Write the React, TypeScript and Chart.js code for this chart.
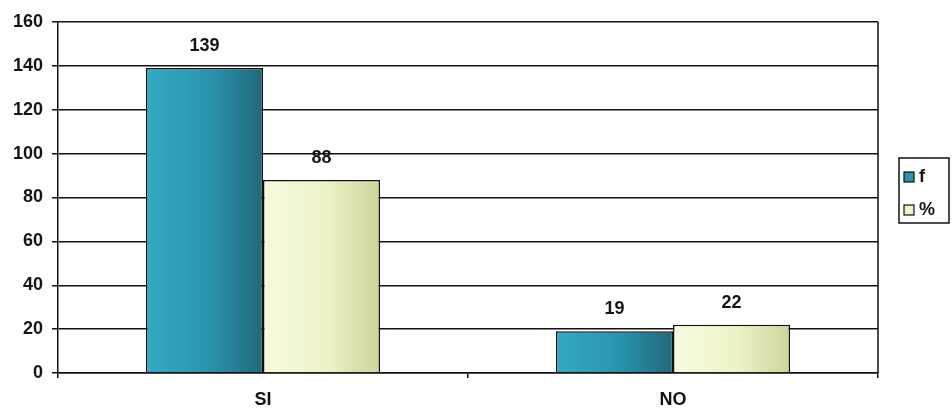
import React, { useEffect, useRef } from "react";
import { Chart, registerables } from "chart.js";

Chart.register(...registerables);

const categories = ["SI", "NO"];
const seriesNames = ["f", "%"];
const fValues = [139, 19];
const pctValues = [88, 22];
const yTicks = [0, 20, 40, 60, 80, 100, 120, 140, 160];

const FONT = "'Liberation Sans', Arial, sans-serif";
const CAT_PCT = 0.571;

const gradStops = [
  ["#34aac4", "#2a93ad", "#22687a"],
  ["#f8fadf", "#eef2c8", "#cfd39a"],
];

function barGradient(ctx: any) {
  const chart = ctx.chart;
  const xs = chart.scales && chart.scales.x;
  const stops = gradStops[ctx.datasetIndex] || gradStops[0];
  if (!xs || ctx.dataIndex === undefined) return stops[1];
  const center = xs.getPixelForValue(ctx.dataIndex);
  const catW = xs.width / categories.length;
  const bw = (catW * CAT_PCT) / 2;
  const x0 = ctx.datasetIndex === 0 ? center - bw : center;
  if (!isFinite(x0) || !isFinite(bw) || bw <= 0) return stops[1];
  const g = chart.ctx.createLinearGradient(x0, 0, x0 + bw, 0);
  g.addColorStop(0, stops[0]);
  g.addColorStop(0.55, stops[1]);
  g.addColorStop(1, stops[2]);
  return g;
}

const labelsPlugin = {
  id: "valueLabels",
  afterDatasetsDraw(chart: any) {
    const ctx = chart.ctx;
    ctx.save();
    ctx.font = `bold 18px ${FONT}`;
    ctx.fillStyle = "#151515";
    ctx.textAlign = "center";
    ctx.textBaseline = "middle";
    chart.data.datasets.forEach((ds: any, di: number) => {
      const meta = chart.getDatasetMeta(di);
      meta.data.forEach((el: any, i: number) => {
        ctx.fillText(String(ds.data[i]), el.x, el.y - 22);
      });
    });
    ctx.restore();
  },
};

const framePlugin = {
  id: "frameAndLegend",
  afterDraw(chart: any) {
    const ctx = chart.ctx;
    const a = chart.chartArea;
    ctx.save();
    ctx.strokeStyle = "#111";
    ctx.lineWidth = 1.5;
    ctx.beginPath();
    ctx.moveTo(a.right, a.top);
    ctx.lineTo(a.right, a.bottom);
    ctx.stroke();

    const lx = 899, ly = 158, lw = 50, lh = 65;
    ctx.lineWidth = 1.5;
    ctx.strokeRect(lx, ly, lw, lh);
    const colors = ["#2a93ad", "#eef2c8"];
    ctx.font = `bold 18px ${FONT}`;
    ctx.textBaseline = "middle";
    ctx.textAlign = "left";
    seriesNames.forEach((name, i) => {
      const cy = ly + 19 + i * 33;
      ctx.fillStyle = colors[i];
      ctx.fillRect(lx + 5, cy - 5, 10, 10);
      ctx.lineWidth = 1.2;
      ctx.strokeStyle = "#111";
      ctx.strokeRect(lx + 5, cy - 5, 10, 10);
      ctx.fillStyle = "#151515";
      ctx.fillText(name, lx + 20, cy);
    });
    ctx.restore();
  },
};

export default function App() {
  const ref = useRef<HTMLCanvasElement | null>(null);
  useEffect(() => {
    if (!ref.current) return;
    const chart = new Chart(ref.current, {
      type: "bar",
      data: {
        labels: categories,
        datasets: [
          {
            label: seriesNames[0],
            data: fValues,
            backgroundColor: barGradient,
            borderColor: "#111",
            borderWidth: 1.5,
            categoryPercentage: CAT_PCT,
            barPercentage: 1,
          },
          {
            label: seriesNames[1],
            data: pctValues,
            backgroundColor: barGradient,
            borderColor: "#111",
            borderWidth: 1.5,
            categoryPercentage: CAT_PCT,
            barPercentage: 1,
          },
        ],
      },
      options: {
        responsive: false,
        animation: false,
        maintainAspectRatio: false,
        layout: { padding: { top: 22, right: 74, left: 0, bottom: 0 } },
        plugins: {
          legend: { display: false },
          tooltip: { enabled: false },
        },
        scales: {
          x: {
            offset: true,
            afterFit: (s: any) => {
              s.height = 38;
            },
            grid: {
              offset: true,
              drawOnChartArea: false,
              drawTicks: true,
              tickLength: 5,
              color: "#111",
              lineWidth: 1.5,
            },
            border: { display: true, color: "#111", width: 1.5 },
            ticks: {
              padding: 11,
              color: "#151515",
              font: { family: FONT, size: 18, weight: "bold" },
            },
          },
          y: {
            min: 0,
            max: 160,
            afterFit: (s: any) => {
              s.width = 58;
            },
            afterBuildTicks: (s: any) => {
              s.ticks = yTicks.map((v) => ({ value: v }));
            },
            grid: {
              color: "#111",
              lineWidth: 1.5,
              drawTicks: true,
              tickLength: 6,
            },
            border: { display: true, color: "#111", width: 1.5 },
            ticks: {
              padding: 9,
              color: "#151515",
              font: { family: FONT, size: 18, weight: "bold" },
            },
          },
        },
      },
      plugins: [labelsPlugin, framePlugin],
    } as any);
    return () => chart.destroy();
  }, []);
  return (
    <div style={{ position: "absolute", left: 0, top: 0, width: 952, height: 411, background: "#fff" }}>
      <canvas ref={ref} width={952} height={411} style={{ display: "block" }} />
    </div>
  );
}
